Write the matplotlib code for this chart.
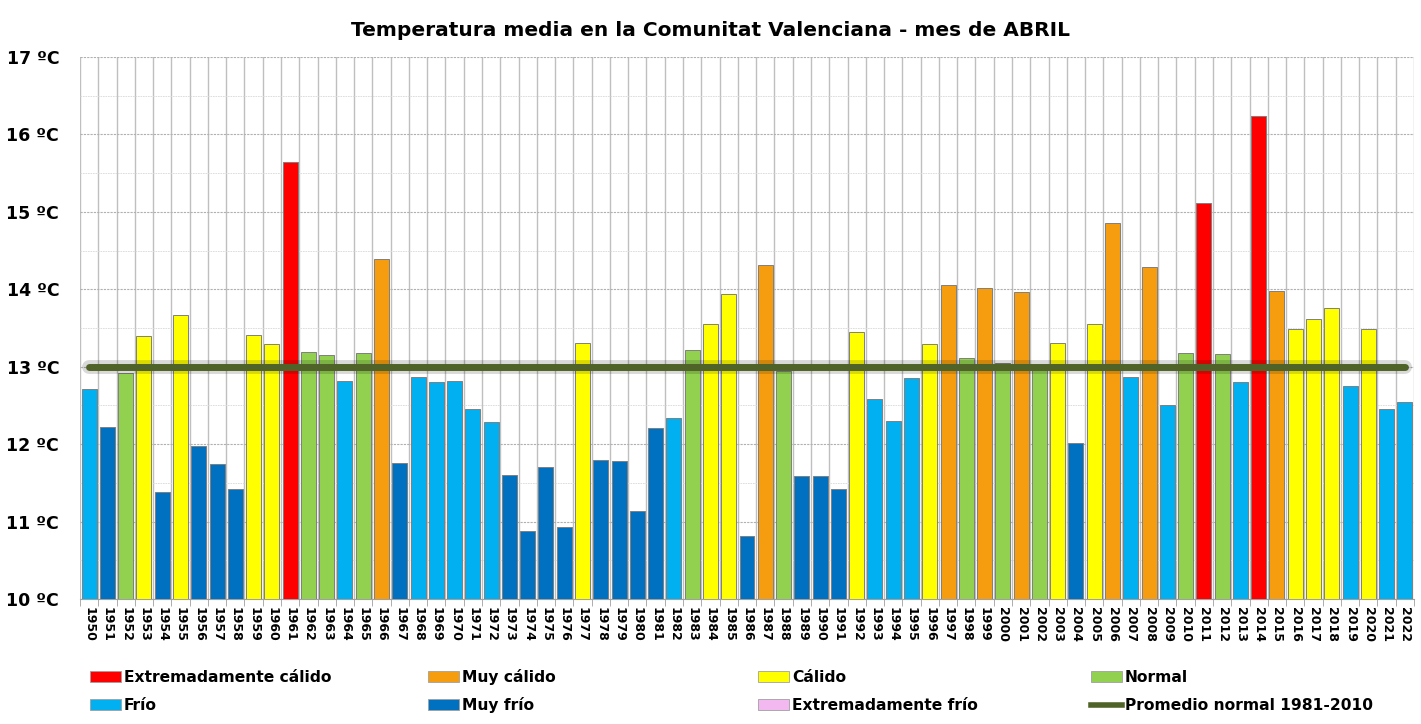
import matplotlib
matplotlib.use('Agg')
import matplotlib.pyplot as plt
from matplotlib.patches import Rectangle
from matplotlib.lines import Line2D
import numpy as np

years = list(range(1950, 2023))
temps = [12.71, 12.22, 12.92, 13.40, 11.38, 13.67, 11.98, 11.74, 11.42, 13.41,
         13.29, 15.64, 13.19, 13.15, 12.82, 13.18, 14.39, 11.75, 12.87, 12.80,
         12.81, 12.45, 12.29, 11.60, 10.88, 11.71, 10.93, 13.31, 11.79, 11.78,
         11.14, 12.21, 12.34, 13.22, 13.55, 13.94, 10.82, 14.31, 12.94, 11.59,
         11.59, 11.42, 13.45, 12.58, 12.30, 12.85, 13.29, 14.06, 13.11, 14.02,
         13.05, 13.97, 13.00, 13.31, 12.01, 13.55, 14.85, 12.87, 14.29, 12.50,
         13.18, 15.11, 13.16, 12.80, 16.24, 13.98, 13.49, 13.61, 13.76, 12.75,
         13.49, 12.46, 12.55]
classes = ['F', 'MF', 'N', 'C', 'MF', 'C', 'MF', 'MF', 'MF', 'C',
           'C', 'EC', 'N', 'N', 'F', 'N', 'MC', 'MF', 'F', 'F',
           'F', 'F', 'F', 'MF', 'MF', 'MF', 'MF', 'C', 'MF', 'MF',
           'MF', 'MF', 'F', 'N', 'C', 'C', 'MF', 'MC', 'N', 'MF',
           'MF', 'MF', 'C', 'F', 'F', 'F', 'C', 'MC', 'N', 'MC',
           'N', 'MC', 'N', 'C', 'MF', 'C', 'MC', 'F', 'MC', 'F',
           'N', 'EC', 'N', 'F', 'EC', 'MC', 'C', 'C', 'C', 'F',
           'C', 'F', 'F']
normal_mean = 13.0

colors = {'EC': '#FF0000', 'MC': '#F59D0E', 'C': '#FFFF00', 'N': '#92D050',
          'F': '#00B0F0', 'MF': '#0070C0', 'EF': '#F4B8F0'}
labels = {'EC': 'Extremadamente cálido', 'MC': 'Muy cálido', 'C': 'Cálido',
          'N': 'Normal', 'F': 'Frío', 'MF': 'Muy frío', 'EF': 'Extremadamente frío'}
line_color = '#4F6228'

plt.rcParams['font.family'] = 'DejaVu Sans'
plt.rcParams['font.weight'] = 'bold'

fig = plt.figure(figsize=(14.21, 7.24), dpi=100)
ax = fig.add_axes([80 / 1421, 1 - 599 / 724, (1414 - 80) / 1421, (599 - 57) / 724])

x = np.arange(len(years))
ax.bar(x, [t - 10 for t in temps], bottom=10, width=0.82,
       color=[colors[c] for c in classes], edgecolor='#7F7F7F', linewidth=0.7, zorder=3)

# average line with soft shadow
ax.plot(x, [normal_mean] * len(x), color='#000000', lw=10, alpha=0.15, zorder=4,
        solid_capstyle='round')
ax.plot(x, [normal_mean] * len(x), color=line_color, lw=5, zorder=5, solid_capstyle='round')

ax.set_xlim(-0.5, len(years) - 0.5)
ax.set_ylim(10, 17)
ax.set_yticks(range(10, 18))
ax.set_yticklabels([f'{v} ºC' for v in range(10, 18)], fontsize=12.5, fontweight='bold')
ax.set_yticks(np.arange(10.5, 17, 1), minor=True)
ax.set_xticks(x)
ax.set_xticklabels([str(y) for y in years], rotation=-90, fontsize=9, fontweight='bold')
ax.set_xticks(np.arange(-0.5, len(years), 1), minor=True)
ax.tick_params(axis='x', which='major', length=0, pad=6)
ax.tick_params(axis='x', which='minor', length=5, color='#A0A0A0')
ax.tick_params(axis='y', which='both', length=0, pad=15)

ax.grid(axis='x', which='minor', color='#BFBFBF', lw=1.0, zorder=1)
ax.grid(axis='y', which='major', color='#B0B0B0', lw=0.8, ls=(0, (2, 1)), zorder=1)
ax.grid(axis='y', which='minor', color='#D8D8D8', lw=0.6, ls=(0, (2, 1)), zorder=1)
for s in ['top', 'right', 'left']:
    ax.spines[s].set_visible(False)
ax.spines['bottom'].set_color('#A0A0A0')

fig.text(0.5, 1 - 30 / 724, 'Temperatura media en la Comunitat Valenciana - mes de ABRIL',
         ha='center', va='center', fontsize=14.5, fontweight='bold')

# legend laid out in a 4 x 2 grid
legend_order = [['EC', 'MC', 'C', 'N'], ['F', 'MF', 'EF', 'LINE']]
col_x = [90, 428, 758, 1091]
row_y = [677, 705]
for r, row in enumerate(legend_order):
    for c, key in enumerate(row):
        px = col_x[c] / 1421
        py = 1 - row_y[r] / 724
        if key == 'LINE':
            fig.add_artist(Line2D([px, px + 31 / 1421], [py, py], color=line_color, lw=4))
            txt = 'Promedio normal 1981-2010'
        else:
            fig.add_artist(Rectangle((px, py - 5 / 724), 31 / 1421, 11 / 724,
                                     facecolor=colors[key], edgecolor='#A0A0A0', lw=0.6))
            txt = labels[key]
        fig.text(px + 34 / 1421, py, txt, ha='left', va='center', fontsize=11.2,
                 fontweight='bold')

fig.savefig('out.png', dpi=100)
